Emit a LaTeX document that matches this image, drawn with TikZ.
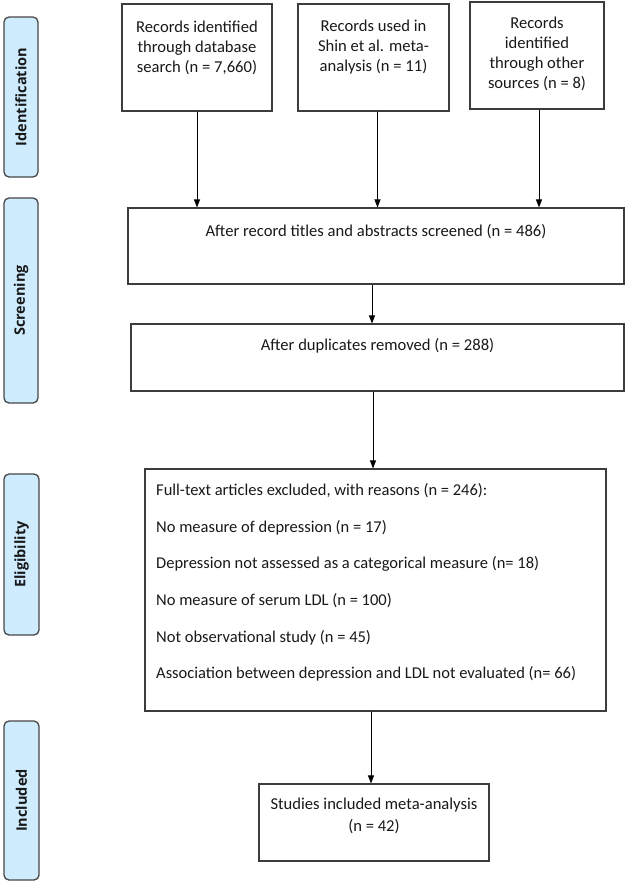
\documentclass[tikz,border=0pt]{standalone}
\usepackage{fontspec}
\setmainfont{Carlito}
\newfontfamily\sidefont{Open Sans}
\usetikzlibrary{arrows.meta}
\definecolor{sidefill}{RGB}{207,236,255}
\definecolor{sideline}{RGB}{70,70,70}
\definecolor{boxline}{RGB}{60,60,60}
\definecolor{txtcol}{RGB}{25,25,25}
\begin{document}
\begin{tikzpicture}[x=1pt,y=-1pt,
  box/.style={draw=boxline, line width=1.1pt, inner sep=0pt, rectangle},
  phase/.style={draw=sideline, fill=sidefill, line width=1.3pt, rounded corners=5pt, inner sep=0pt, rectangle},
  phasetext/.style={font=\sidefont\bfseries\fontsize{14.5}{16}\selectfont, rotate=90, text=txtcol, inner sep=0pt},
  txt/.style={font=\fontsize{16.6}{20}\selectfont, align=center, inner sep=0pt, text=txtcol},
  ltxt/.style={font=\fontsize{16.5}{20}\selectfont, anchor=west, inner sep=0pt, text=txtcol},
  arr/.style={-{Triangle[width=6pt,length=8pt]}, line width=0.9pt, black}]
\useasboundingbox (0,0) rectangle (627,886);
\fill[white] (0,0) rectangle (627,886);

% phase labels
\node[phase, minimum width=34pt, minimum height=160pt] (p1) at (21,97) {};
\node[phasetext] (p1t) at (p1) {Identification};
\node[phase, minimum width=34pt, minimum height=205pt] (p2) at (21,300.5) {};
\node[phasetext] (p2t) at (p2) {Screening};
\node[phase, minimum width=35pt, minimum height=161pt] (p3) at (21.5,554.5) {};
\node[phasetext] (p3t) at (p3) {Eligibility};
\node[phase, minimum width=35pt, minimum height=159pt] (p4) at (21.5,800.5) {};
\node[phasetext] (p4t) at (p4) {Included};

% boxes
\node[box, minimum width=150pt, minimum height=107pt] (b1) at (197,57.5) {};
\node[txt] (b1t) at (197,47.5) {Records identified\\through database\\search (n = 7,660)};
\node[box, minimum width=151pt, minimum height=107pt] (b2) at (373.5,57.5) {};
\node[txt] (b2t) at (373.5,47.5) {Records used in\\Shin et al. meta-\\analysis (n = 11)};
\node[box, minimum width=134pt, minimum height=107pt] (b3) at (537,55.5) {};
\node[txt] (b3t) at (537,54) {Records\\identified\\through other\\sources (n = 8)};

\node[box, minimum width=496pt, minimum height=76pt] (s1) at (376,246) {};
\node[txt] (s1t) at (376,232) {After record titles and abstracts screened (n = 486)};
\node[box, minimum width=493pt, minimum height=67pt] (s2) at (377.5,357.5) {};
\node[txt] (s2t) at (377.5,346) {After duplicates removed (n = 288)};

\node[box, minimum width=461pt, minimum height=242pt] (el) at (375.5,590) {};
\node[ltxt] (e1) at (156,491) {Full-text articles excluded, with reasons (n = 246):};
\node[ltxt] (e2) at (156,527.6) {No measure of depression (n = 17)};
\node[ltxt] (e3) at (156,564.2) {Depression not assessed as a categorical measure (n= 18)};
\node[ltxt] (e4) at (156,600.8) {No measure of serum LDL (n = 100)};
\node[ltxt] (e5) at (156,637.4) {Not observational study (n = 45)};
\node[ltxt] (e6) at (156,674) {Association between depression and LDL not evaluated (n= 66)};

\node[box, minimum width=230pt, minimum height=77pt] (inc) at (374,822.5) {};
\node[txt, font=\fontsize{16.6}{22}\selectfont] (inct) at (374,816) {Studies included meta-analysis\\(n = 42)};

% connectors
\draw[arr] (b1.south) -- (b1.south |- s1.north);
\draw[arr] ([xshift=4pt]b2.south) -- ([xshift=4pt]b2.south |- s1.north);
\draw[arr] ([xshift=2pt]b3.south) -- ([xshift=2pt]b3.south |- s1.north);
\draw[arr] ([xshift=-4pt]s1.south) -- ([xshift=-4pt]s1.south |- s2.north);
\draw[arr] ([xshift=-4.5pt]s2.south) -- ([xshift=-4.5pt]s2.south |- el.north);
\draw[arr] ([xshift=-4.5pt]el.south) -- ([xshift=-4.5pt]el.south |- inc.north);
\end{tikzpicture}
\end{document}
